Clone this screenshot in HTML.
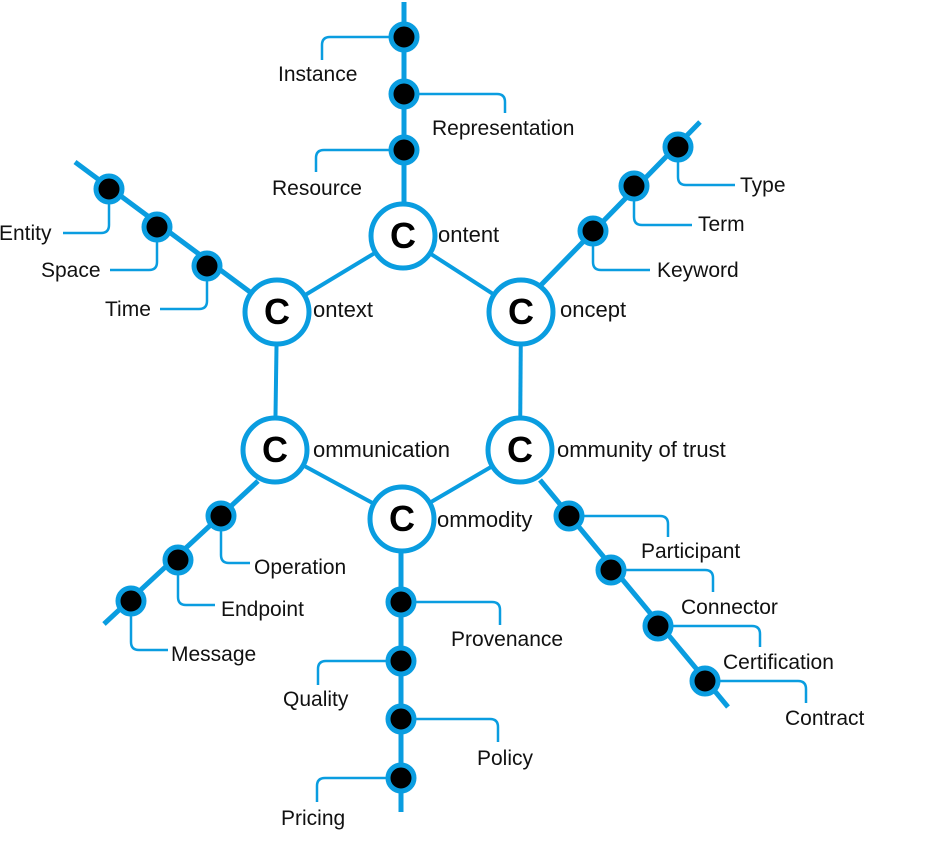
<!DOCTYPE html>
<html><head><meta charset="utf-8"><style>
html,body{margin:0;padding:0;background:#fff;}
svg{display:block;font-family:"Liberation Sans",Arial,sans-serif;}
</style></head><body>
<svg id="d" width="929" height="848" viewBox="0 0 929 848"></svg>
<script>
const B='#0a9de0';
const hubNames=['Content','Context','Concept','Communication','Community of trust','Commodity'];
const hubPos=[[403,236],[277,312],[521,312],[275,450],[520,450],[402,519]];
const hubLabelPos=[[438,242],[313,317],[560,317],[313,457],[557,457],[437,527]];
const edges=[[0,1],[0,2],[1,3],[2,4],[3,5],[4,5]];
const spokes=[[[404,2],[404,204]],[[541,285],[700,122]],[[75,162],[250,292]],[[540,480],[728,707]],[[401,552],[401,812]],[[258,481],[104,624]]];
const leaves=[
['Instance',404,37,'h',322,60,278,81],
['Representation',404,94,'h',505,113,432,135],
['Resource',404,150,'h',316,172,272,195],
['Keyword',593,231,'v',650,270,657,277],
['Term',634,186,'v',692,225,698,231],
['Type',678,147,'v',735,185,740,192],
['Entity',109,189,'v',63,233,-1,240],
['Space',157,227,'v',110,270,41,277],
['Time',207,266,'v',160,309,105,316],
['Participant',569,516,'h',668,537,641,558],
['Connector',611,570,'h',713,592,681,614],
['Certification',658,626,'h',760,647,723,669],
['Contract',705,681,'h',806,703,785,725],
['Provenance',401,602,'h',500,625,451,646],
['Quality',401,661,'h',318,685,283,706],
['Policy',401,719,'h',498,742,477,765],
['Pricing',401,778,'h',317,802,281,825],
['Operation',221,516,'v',250,563,254,574],
['Endpoint',178,560,'v',215,605,221,616],
['Message',131,601,'v',168,650,171,661]
];
const svg=document.getElementById('d');
const NS='http://www.w3.org/2000/svg';
function mk(t,a){const e=document.createElementNS(NS,t);for(const k in a)e.setAttribute(k,a[k]);svg.appendChild(e);return e;}
function slug(s){return s.toLowerCase().replace(/ /g,'-');}
edges.forEach(([a,b])=>{
 const e=mk('line',{x1:hubPos[a][0],y1:hubPos[a][1],x2:hubPos[b][0],y2:hubPos[b][1],stroke:B,'stroke-width':4});
 
 
});
spokes.forEach(s=>{
 const e=mk('line',{x1:s[0][0],y1:s[0][1],x2:s[1][0],y2:s[1][1],stroke:B,'stroke-width':5});
 
 
});
leaves.forEach(l=>{
 const [name,x,y,m,ex,ey,lx,ly]=l;const r=8;let d;
 if(m==='h'){const sx=Math.sign(ex-x);d=`M${x} ${y}H${ex-sx*r}Q${ex} ${y} ${ex} ${y+r}V${ey}`;}
 else{const sx=Math.sign(ex-x);d=`M${x} ${y}V${ey-r}Q${x} ${ey} ${x+sx*r} ${ey}H${ex}`;}
 const p=mk('path',{d:d,fill:'none',stroke:B,'stroke-width':2.5});
 
 
});
leaves.forEach(l=>{
 const c=mk('circle',{cx:l[1],cy:l[2],r:13,fill:'#000',stroke:B,'stroke-width':5});
 
 
 const t=mk('text',{x:l[6],y:l[7],'font-size':21,fill:'#111'});t.textContent=l[0];
 
 
});
hubPos.forEach((p,i)=>{
 const c=mk('circle',{cx:p[0],cy:p[1],r:32,fill:'#fff',stroke:B,'stroke-width':5});
 
 
 const t=mk('text',{x:p[0],y:p[1]+12,'font-size':36,'font-weight':'bold','text-anchor':'middle',fill:'#000'});t.textContent='C';
 
 
 const lt=mk('text',{x:hubLabelPos[i][0],y:hubLabelPos[i][1],'font-size':22,fill:'#111'});lt.textContent=hubNames[i].slice(1);
 
 
});
</script>
</body></html>
